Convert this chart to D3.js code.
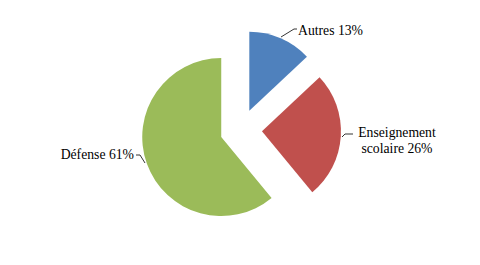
<!DOCTYPE html>
<html>
<head>
<meta charset="utf-8">
<script src="https://cdn.jsdelivr.net/npm/d3@7"></script>
<style>
  body { margin: 0; background: #fff; }
  text { font-family: "Liberation Serif", serif; font-size: 13.7px; fill: #000; }
</style>
</head>
<body>
<div id="plot"></div>
<script>
// budget shares
const categories = ["Autres", "Enseignement scolaire", "Défense"];
const values = [13, 26, 61];
const colors = ["#4F81BD", "#C0504D", "#9BBB59"];

const width = 480, height = 265;
const cx = 241, cy = 130, radius = 79, explode = 21;

const svg = d3.select("#plot").append("svg")
    .attr("width", width)
    .attr("height", height);

const pie = d3.pie().sort(null).value(d => d)(values);
const arc = d3.arc().innerRadius(0).outerRadius(radius);

const g = svg.append("g").attr("transform", `translate(${cx},${cy})`);

const offset = d => {
    const a = (d.startAngle + d.endAngle) / 2;
    return [Math.sin(a) * explode, -Math.cos(a) * explode];
};

g.selectAll("path")
    .data(pie)
    .enter().append("path")
    .attr("d", arc)
    .attr("fill", (d, i) => colors[i])
    .attr("transform", d => `translate(${offset(d)})`);

// labels with leader lines (absolute page positions)
const labels = [
    { lines: ["Autres 13%"], x: 298, y: 30, anchor: "start", leader: [[281, 37], [294, 29], [297, 29]] },
    { lines: ["Enseignement", "scolaire 26%"], x: 397, y: 132, anchor: "middle", leader: [[342, 137], [345, 134], [353, 134]] },
    { lines: ["Défense 61%"], x: 134, y: 154, anchor: "end", leader: [[136, 155], [140, 155], [145, 163]] }
];

labels.forEach(l => {
    svg.append("path")
        .attr("d", d3.line()(l.leader))
        .attr("fill", "none")
        .attr("stroke", "#000")
        .attr("stroke-width", 0.8);
    const t = svg.append("text")
        .attr("x", l.x)
        .attr("y", l.y)
        .attr("text-anchor", l.anchor)
        .attr("dominant-baseline", "central");
    l.lines.forEach((s, i) => {
        t.append("tspan").attr("x", l.x).attr("dy", i === 0 ? 0 : 16).text(s);
    });
});
</script>
</body>
</html>
